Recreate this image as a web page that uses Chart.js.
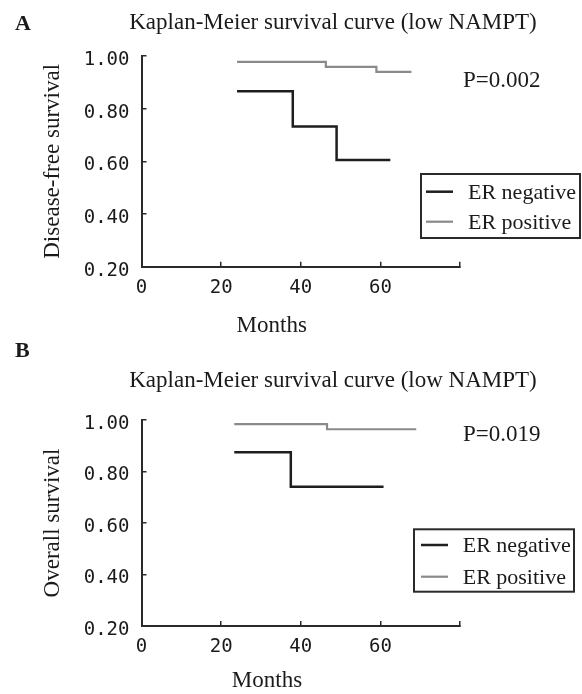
<!DOCTYPE html>
<html>
<head>
<meta charset="utf-8">
<script src="https://cdn.jsdelivr.net/npm/chart.js@4.4.1/dist/chart.umd.min.js"></script>
<style>
  body { margin: 0; background: #fff; }
  canvas { display: block; }
</style>
</head>
<body>
<canvas id="graficoA" width="582" height="338"></canvas>
<canvas id="graficoB" width="582" height="356"></canvas>
<script>
// dados (Kaplan-Meier, low NAMPT)
const rotulosSeries = ['ER negative', 'ER positive'];

// A - sobrevida livre de doenca
const dfsMesesNeg = [24, 38, 49, 62.5];
const dfsSobrevNeg = [0.866, 0.732, 0.605, 0.605];
const dfsMesesPos = [24, 46.3, 59, 67.8];
const dfsSobrevPos = [0.978, 0.959, 0.940, 0.940];

// B - sobrevida global
const osMesesNeg = [23.3, 37.5, 60.8];
const osSobrevNeg = [0.875, 0.741, 0.741];
const osMesesPos = [23.3, 46.6, 69];
const osSobrevPos = [0.984, 0.964, 0.964];

// eixos
const ticksMeses = [0, 20, 40, 60, 80];
const rotulosMeses = ['0', '20', '40', '60', ''];
const ticksSobrev = [0.2, 0.4, 0.6, 0.8, 1.0];

const tituloGrafico = 'Kaplan-Meier survival curve (low NAMPT)';

const corNegativo = '#1e1e1e';
const corPositivo = '#8a8a8a';
const corEixo = '#2a2a2a';
const corTexto = '#1a1a1a';
const serif = '"Liberation Serif", "Times New Roman", serif';
const mono = '"DejaVu Sans Mono", monospace';

// juntando x e y
function pares(meses, valores) {
  return meses.map((m, i) => ({ x: m, y: valores[i] }));
}

// textos soltos e legenda com caixa
const textosPainel = {
  id: 'textosPainel',
  afterDraw(chart, args, opts) {
    const ctx = chart.ctx;
    ctx.save();
    ctx.fillStyle = corTexto;
    ctx.textBaseline = 'alphabetic';

    ctx.font = 'bold 22px ' + serif;
    ctx.textAlign = 'left';
    ctx.fillText(opts.letra, 15, opts.letraY);

    ctx.font = '23px ' + serif;
    ctx.textAlign = 'center';
    ctx.fillText(tituloGrafico, 333, opts.tituloY);
    ctx.fillText('Months', opts.mesesX, opts.mesesY);

    ctx.textAlign = 'left';
    ctx.fillText(opts.p, 463, opts.pY);

    const leg = opts.legenda;
    ctx.strokeStyle = corEixo;
    ctx.lineWidth = 2;
    ctx.strokeRect(leg.x, leg.y, leg.w, leg.h);
    ctx.font = '22px ' + serif;
    chart.data.datasets.forEach((ds, i) => {
      const y = leg.linhaY[i];
      ctx.strokeStyle = ds.borderColor;
      ctx.lineWidth = ds.borderWidth;
      ctx.beginPath();
      ctx.moveTo(leg.x1, y);
      ctx.lineTo(leg.x2, y);
      ctx.stroke();
      ctx.fillText(ds.label, leg.textoX, y + 7);
    });
    ctx.restore();
  }
};

function criaGrafico(id, conf) {
  const eixoGrid = { drawOnChartArea: false, tickLength: -5, color: corEixo, lineWidth: 1.5 };
  const eixoBorda = { color: corEixo, width: 2 };
  return new Chart(document.getElementById(id), {
    type: 'line',
    data: {
      datasets: [
        {
          label: rotulosSeries[0],
          data: pares(conf.mesesNeg, conf.sobrevNeg),
          borderColor: corNegativo,
          borderWidth: 2.5,
          stepped: 'before',
          pointRadius: 0,
          borderJoinStyle: 'miter',
          fill: false,
        },
        {
          label: rotulosSeries[1],
          data: pares(conf.mesesPos, conf.sobrevPos),
          borderColor: corPositivo,
          borderWidth: 2.2,
          stepped: 'before',
          pointRadius: 0,
          borderJoinStyle: 'miter',
          fill: false,
        },
      ],
    },
    options: {
      responsive: false,
      animation: false,
      layout: { padding: { left: 0, right: 122, top: conf.topo, bottom: 0 } },
      plugins: {
        legend: { display: false },
        title: { display: false },
        tooltip: { enabled: false },
        textosPainel: conf.textos,
      },
      scales: {
        x: {
          type: 'linear',
          min: 0,
          max: 80,
          afterBuildTicks: (s) => { s.ticks = ticksMeses.map((v) => ({ value: v })); },
          afterFit: (s) => { s.height = conf.alturaX; },
          ticks: {
            autoSkip: false,
            maxRotation: 0,
            padding: 15,
            color: corTexto,
            font: { family: mono, size: 19 },
            callback: (v, i) => rotulosMeses[i],
          },
          grid: eixoGrid,
          border: eixoBorda,
        },
        y: {
          min: 0.2,
          max: 1.0,
          afterBuildTicks: (s) => { s.ticks = ticksSobrev.map((v) => ({ value: v })); },
          afterFit: (s) => { s.width = 141.5; },
          ticks: {
            padding: 17,
            labelOffset: 4,
            color: corTexto,
            font: { family: mono, size: 19 },
            callback: (v) => v.toFixed(2),
          },
          grid: eixoGrid,
          border: eixoBorda,
          title: {
            display: true,
            text: conf.tituloY,
            color: corTexto,
            font: { family: serif, size: 23 },
            padding: { top: 39, bottom: 0 },
          },
        },
      },
    },
    plugins: [textosPainel],
  });
}

criaGrafico('graficoA', {
  mesesNeg: dfsMesesNeg, sobrevNeg: dfsSobrevNeg,
  mesesPos: dfsMesesPos, sobrevPos: dfsSobrevPos,
  tituloY: 'Disease-free survival',
  topo: 56,
  alturaX: 71.3,
  textos: {
    letra: 'A', letraY: 30,
    tituloY: 29,
    mesesX: 271.7, mesesY: 331.5,
    p: 'P=0.002', pY: 86.5,
    legenda: { x: 421, y: 174, w: 159, h: 64, x1: 426, x2: 453, linhaY: [191.7, 221.7], textoX: 468 },
  },
});

criaGrafico('graficoB', {
  mesesNeg: osMesesNeg, sobrevNeg: osSobrevNeg,
  mesesPos: osMesesPos, sobrevPos: osSobrevPos,
  tituloY: 'Overall survival',
  topo: 82,
  alturaX: 68,
  textos: {
    letra: 'B', letraY: 18.5,
    tituloY: 48.7,
    mesesX: 267, mesesY: 348.5,
    p: 'P=0.019', pY: 103,
    legenda: { x: 414, y: 191.3, w: 160, h: 62.4, x1: 421, x2: 448, linhaY: [207, 238.7], textoX: 462.7 },
  },
});
</script>
</body>
</html>
